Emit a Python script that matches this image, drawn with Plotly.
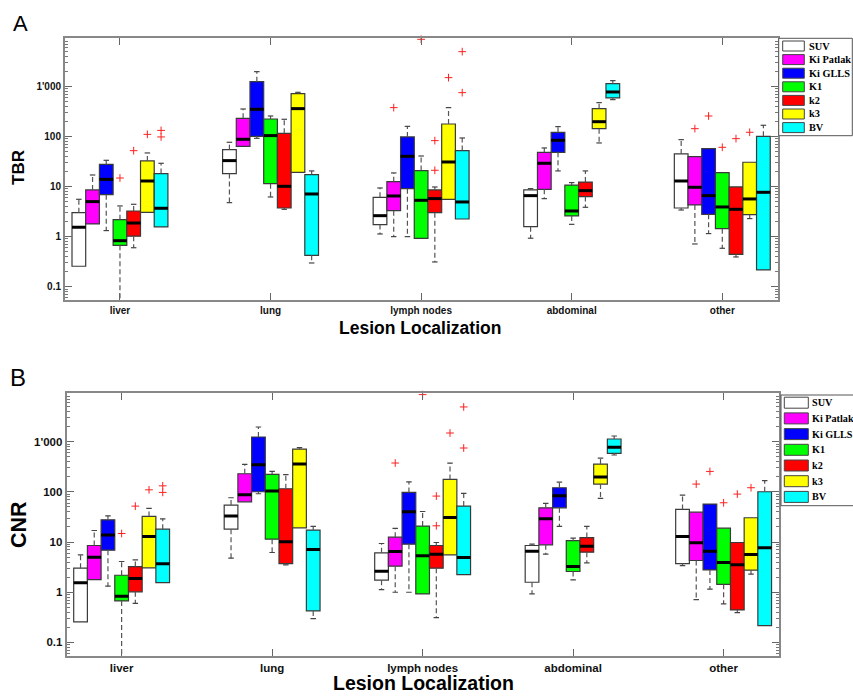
import plotly.graph_objects as go

# ---------------- data ----------------
categories = ["liver", "lung", "lymph nodes", "abdominal", "other"]
series_names = ["SUV", "Ki Patlak", "Ki GLLS", "K1", "k2", "k3", "BV"]
series_colors = ["#ffffff", "#ff00ff", "#0000ff", "#00ff00", "#ff0000", "#ffff00", "#00ffff"]

suv_q1 = [0.256, 18.1, 1.74, 1.58, 3.73]
suv_med = [1.54, 32.9, 2.62, 6.58, 12.9]
suv_q3 = [3.01, 54.5, 6.1, 8.54, 44.7]
suv_lo = [0.256, 4.77, 1.13, 0.93, 3.4]
suv_hi = [5.56, 76.4, 9.36, 9.08, 86.3]
suv_out = []

kip_q1 = [1.79, 63.5, 3.3, 8.81, 4.29]
kip_med = [5.0, 87.7, 6.48, 29.1, 9.66]
kip_q3 = [8.54, 230, 12.5, 48.2, 39.5]
kip_lo = [1.79, 63.5, 1.0, 5.73, 0.714]
kip_hi = [17.0, 353, 18.7, 58.9, 39.5]
kip_out = [(2, 376), (4, 143)]

kig_q1 = [6.89, 100.6, 9.08, 48.2, 2.79]
kig_med = [13.9, 348, 40.1, 83.7, 6.58]
kig_q3 = [27.8, 1241, 97.6, 121, 57.1]
kig_lo = [1.32, 91.8, 1.0, 20.5, 1.15]
kig_hi = [33.4, 1965, 159, 157, 57.1]
kig_out = [(4, 256)]

k1_q1 = [0.67, 11.4, 0.927, 2.59, 1.44]
k1_med = [0.83, 104, 5.31, 3.25, 3.91]
k1_q3 = [2.18, 223, 20.8, 10.7, 18.9]
k1_lo = [0.01, 6.19, 0.927, 1.76, 0.585]
k1_hi = [4.1, 256, 40.7, 12.0, 18.9]
k1_out = [(0, 14.8), (2, 8690), (4, 60.7)]

k2_q1 = [1.02, 3.73, 3.01, 6.29, 0.444]
k2_med = [1.87, 10.1, 5.74, 8.28, 3.51]
k2_q3 = [3.25, 115.6, 8.54, 12.3, 9.8]
k2_lo = [0.60, 3.51, 0.312, 3.85, 0.393]
k2_hi = [4.42, 220, 9.8, 20.5, 9.8]
k2_out = [(0, 52), (2, 82.5), (2, 21.1), (4, 90.4)]

k3_q1 = [3.06, 19.2, 5.56, 143, 2.75]
k3_med = [12.9, 359, 30.9, 197, 5.65]
k3_q3 = [32.4, 715, 177, 359, 30.5]
k3_lo = [3.06, 19.2, 5.56, 74.1, 2.29]
k3_hi = [46.8, 760, 376, 473, 30.5]
k3_out = [(0, 110), (2, 1492), (4, 121)]

bv_q1 = [1.56, 0.424, 2.25, 586, 0.216]
bv_med = [3.68, 7.1, 4.92, 772, 7.67]
bv_q3 = [18.1, 17.3, 52.1, 1132, 100.6]
bv_lo = [1.56, 0.298, 2.25, 543, 0.216]
bv_hi = [29.1, 20.5, 93.2, 1300, 167]
bv_out = [(0, 132), (0, 97.7), (2, 4930), (2, 749)]

ytick_vals = [0.1, 1, 10, 100, 1000]
ytick_text = ["0.1", "1", "10", "100", "1'000"]

stats = [
    (suv_q1, suv_med, suv_q3, suv_lo, suv_hi, suv_out),
    (kip_q1, kip_med, kip_q3, kip_lo, kip_hi, kip_out),
    (kig_q1, kig_med, kig_q3, kig_lo, kig_hi, kig_out),
    (k1_q1, k1_med, k1_q3, k1_lo, k1_hi, k1_out),
    (k2_q1, k2_med, k2_q3, k2_lo, k2_hi, k2_out),
    (k3_q1, k3_med, k3_q3, k3_lo, k3_hi, k3_out),
    (bv_q1, bv_med, bv_q3, bv_lo, bv_hi, bv_out),
]
# both panels (TBR and CNR) show the same values in the picture
panels = [("TBR", stats), ("CNR", stats)]

# ---------------- layout constants ----------------
W, H = 853, 696
BW = 0.091          # box width in category units
CAP = 0.2 * BW      # half width of whisker caps
FONT = "Liberation Sans"
SERIF = "Liberation Serif"

def px(x):
    return x / W

def py(y):
    return 1 - y / H

fig = go.Figure()

panel_geo = [
    dict(x0=65, x1=778, y0=38, y1=300, tick=10),
    dict(x0=66.7, x1=779.3, y0=393.3, y1=655.7, tick=11.5),
]

n_cat = len(categories)
for p, (ylabel, st) in enumerate(panels):
    xa = "x" if p == 0 else "x2"
    ya = "y" if p == 0 else "y2"
    for j, (q1, med, q3, lo, hi, out) in enumerate(st):
        xs = [i + 1 + (j - 3) * BW for i in range(n_cat)]
        fig.add_trace(go.Box(
            x=xs, q1=q1, median=med, q3=q3, lowerfence=q1, upperfence=q3,
            width=BW, fillcolor=series_colors[j], line=dict(color="#3a3a3a", width=1.2),
            whiskerwidth=0, boxpoints=False, showlegend=False, hoverinfo="skip",
            xaxis=xa, yaxis=ya))
        # dashed whiskers
        wx, wy, cx, cy = [], [], [], []
        for i in range(n_cat):
            if hi[i] > q3[i]:
                wx += [xs[i], xs[i], None]
                wy += [q3[i], hi[i], None]
                cx += [xs[i] - CAP, xs[i] + CAP, None]
                cy += [hi[i], hi[i], None]
            if lo[i] < q1[i]:
                wx += [xs[i], xs[i], None]
                wy += [q1[i], lo[i], None]
                cx += [xs[i] - CAP, xs[i] + CAP, None]
                cy += [lo[i], lo[i], None]
        fig.add_trace(go.Scatter(x=wx, y=wy, mode="lines",
                                 line=dict(color="#555555", width=1.2, dash="5px,3px"),
                                 showlegend=False, hoverinfo="skip", xaxis=xa, yaxis=ya))
        fig.add_trace(go.Scatter(x=cx, y=cy, mode="lines",
                                 line=dict(color="#444444", width=1.2),
                                 showlegend=False, hoverinfo="skip", xaxis=xa, yaxis=ya))
        # thick medians
        mx, my = [], []
        for i in range(n_cat):
            mx += [xs[i] - BW / 2, xs[i] + BW / 2, None]
            my += [med[i], med[i], None]
        fig.add_trace(go.Scatter(x=mx, y=my, mode="lines",
                                 line=dict(color="#000000", width=3),
                                 showlegend=False, hoverinfo="skip", xaxis=xa, yaxis=ya))
        # outliers
        if out:
            fig.add_trace(go.Scatter(
                x=[c + 1 + (j - 3) * BW for c, v in out], y=[v for c, v in out],
                mode="markers", marker=dict(symbol="cross-thin", size=5.5,
                                            line=dict(color="#ff2020", width=1)),
                showlegend=False, hoverinfo="skip", xaxis=xa, yaxis=ya, cliponaxis=False))

minor_vals = [m * 10 ** e for e in range(-2, 4) for m in range(2, 10)]

for p, g in enumerate(panel_geo):
    sfx = "" if p == 0 else "2"
    tf = dict(family=FONT, size=g["tick"], color="#111", weight="bold")
    fig.update_layout(**{
        "xaxis" + sfx: dict(
            domain=[px(g["x0"]), px(g["x1"])], range=[0.635, 5.37],
            tickmode="array", tickvals=list(range(1, n_cat + 1)), ticktext=categories,
            ticks="inside", ticklen=7, tickwidth=1.3, tickcolor="#666",
            showline=True, linecolor="#888", linewidth=2, mirror="ticks",
            showgrid=False, zeroline=False, tickfont=tf,
            anchor="y" + sfx),
        "yaxis" + sfx: dict(
            domain=[py(g["y1"]), py(g["y0"])], type="log", range=[-1.265, 3.965],
            tickmode="array", tickvals=ytick_vals, ticktext=ytick_text,
            ticks="inside", ticklen=7, tickwidth=1.3, tickcolor="#666",
            minor=dict(tickmode="array", tickvals=minor_vals, ticks="inside",
                       ticklen=3, tickwidth=1, tickcolor="#777"),
            showline=True, linecolor="#888", linewidth=2, mirror="ticks",
            showgrid=False, zeroline=False, tickfont=tf,
            anchor="x" + sfx),
    })

ann = []
shapes = []
# panel letters and axis titles
ann.append(dict(text="A", x=px(20), y=py(23), font=dict(family=FONT, size=22, color="black")))
ann.append(dict(text="B", x=px(18), y=py(377), font=dict(family=FONT, size=24, color="black")))
ann.append(dict(text="TBR", x=px(18), y=py(168), textangle=-90,
                font=dict(family=FONT, size=17, color="black", weight="bold")))
ann.append(dict(text="CNR", x=px(19), y=py(525), textangle=-90,
                font=dict(family=FONT, size=21.5, color="black", weight="bold")))
ann.append(dict(text="Lesion Localization", x=px(420), y=py(328),
                font=dict(family=FONT, size=17.5, color="black", weight="bold")))
ann.append(dict(text="Lesion Localization", x=px(423), y=py(696), yanchor="bottom",
                font=dict(family=FONT, size=19.5, color="black", weight="bold")))

# manual legends
legend_geo = [
    dict(bx0=778.7, bx1=852.3, by0=38.3, by1=135.7, sx0=782.7, sx1=804.3, sy=46, dy=13.6, sh=10, tx=806.5, fs=10.3),
    dict(bx0=781, bx1=856, by0=395, by1=505.7, sx0=784.3, sx1=808.3, sy=402.7, dy=15.7, sh=11, tx=810, fs=10.2),
]
for lg in legend_geo:
    shapes.append(dict(type="rect", xref="paper", yref="paper",
                       x0=px(lg["bx0"]), x1=px(lg["bx1"]), y0=py(lg["by1"]), y1=py(lg["by0"]),
                       line=dict(color="#555", width=1), fillcolor="white", layer="above"))
    for k, (name, col) in enumerate(zip(series_names, series_colors)):
        yc = lg["sy"] + k * lg["dy"]
        shapes.append(dict(type="rect", xref="paper", yref="paper",
                           x0=px(lg["sx0"]), x1=px(lg["sx1"]),
                           y0=py(yc + lg["sh"] / 2), y1=py(yc - lg["sh"] / 2),
                           line=dict(color="#444", width=1), fillcolor=col, layer="above"))
        ann.append(dict(text=name, x=px(lg["tx"]), y=py(yc), xanchor="left",
                        font=dict(family=SERIF, size=lg["fs"], color="black", weight="bold")))

for a in ann:
    a.setdefault("xref", "paper")
    a.setdefault("yref", "paper")
    a.setdefault("showarrow", False)
    a.setdefault("xanchor", "center")
    a.setdefault("yanchor", "middle")

fig.update_layout(
    width=W, height=H, margin=dict(l=0, r=0, t=0, b=0),
    paper_bgcolor="white", plot_bgcolor="white",
    boxmode="overlay", showlegend=False,
    annotations=ann, shapes=shapes,
)

fig.write_html(
    "out.html",
    config={"displayModeBar": False},
    post_script="document.body.style.margin='0';document.body.style.overflow='hidden';",
)
